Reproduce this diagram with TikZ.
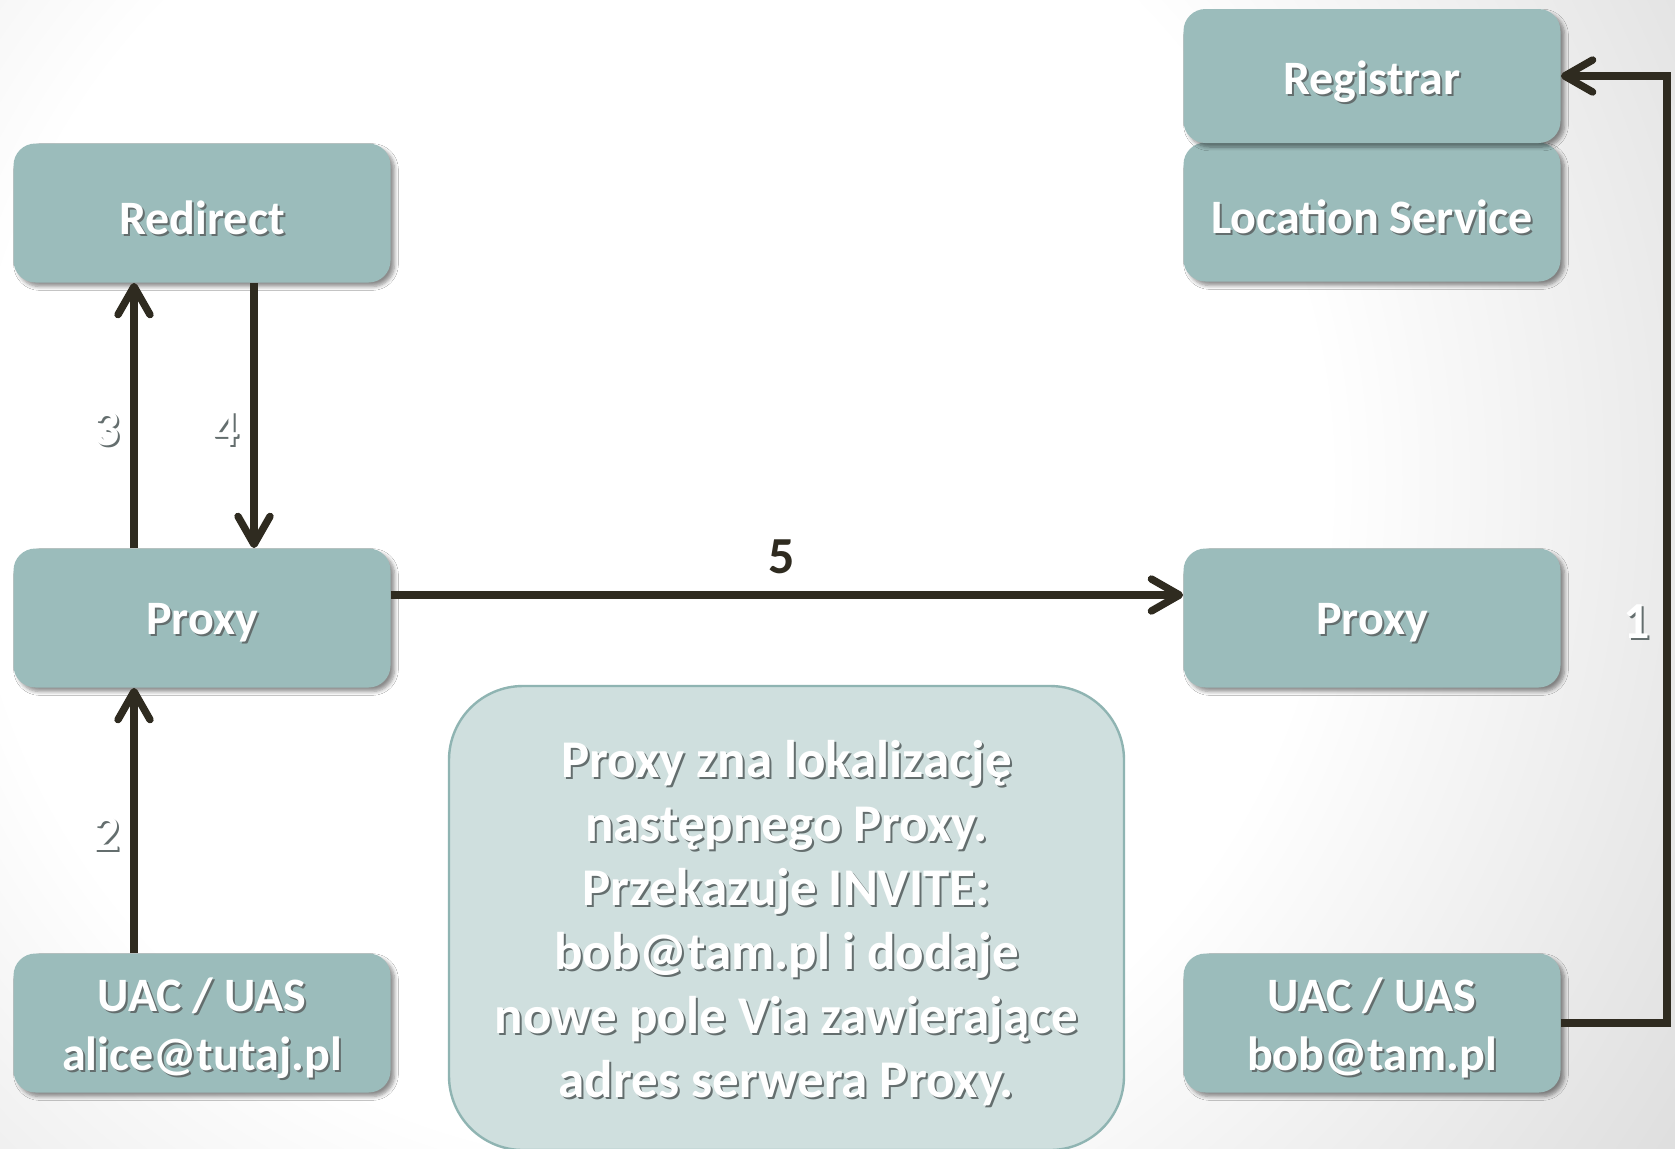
\documentclass[tikz,border=0pt]{standalone}
\usepackage{fontspec}
\setmainfont{Carlito}
\usetikzlibrary{arrows.meta,shadows,shadows.blur}

\definecolor{boxfill}{RGB}{155,188,187}
\definecolor{notefill}{RGB}{207,223,222}
\definecolor{noteedge}{RGB}{143,180,178}
\definecolor{arrowc}{RGB}{47,43,32}
\definecolor{txtshade}{RGB}{100,110,110}
\definecolor{bgright}{RGB}{218,218,218}

% slide background: white centre fading to light grey towards the edges
\pgfdeclareradialshading{slideglow}{\pgfpoint{0bp}{0bp}}{%
  color(0bp)=(white); color(13bp)=(white); color(25bp)=(bgright); color(50bp)=(bgright)}

% white lettering with a small dark offset copy behind it,
% optionally lowered without changing the line's size
\newcommand\shd[2][3pt]{\raisebox{-#1}[\height][\depth]{\rlap{\kern1pt\raisebox{-1pt}{\textcolor{txtshade}{#2}}}#2}}

\tikzset{
  stage/.style={rounded corners=11pt, fill=boxfill, text=white,
    font=\bfseries\fontsize{24}{29.5}\selectfont, align=center,
    minimum width=188.5pt, minimum height=69.5pt, inner sep=0pt,
    blur shadow={shadow xshift=2pt, shadow yshift=-2pt, shadow blur steps=6, shadow opacity=45}},
  notebox/.style={rounded corners=37pt, fill=notefill, draw=noteedge, line width=1.2pt,
    text=white, font=\bfseries\fontsize{26.5}{32}\selectfont, align=center,
    minimum width=337.5pt, minimum height=232pt, inner sep=0pt},
  flow/.style={draw=arrowc, line width=3.7pt, -{Straight Barb[length=14pt, width=16pt, round]}},
  steplabel/.style={text=white, font=\bfseries\fontsize{26}{30}\selectfont, inner sep=0pt},
}

\begin{document}
\begin{tikzpicture}[x=0.5pt, y=-0.5pt]
  % page background
  \useasboundingbox (0,0) rectangle (1675,1148);
  \begin{scope}
    \clip (0,0) rectangle (1675,1148);
    \fill[white] (0,0) rectangle (1675,1148);
    \shade[shading=slideglow] (650,480) circle (1300);
  \end{scope}

  % servers and user agents
  \node[stage] (redirect) at (202,213) {\shd{Redirect}};
  \node[stage] (location) at (1372,212) {\shd{Location Service}};
  \node[stage, minimum height=67pt] (registrar) at (1372,76) {\shd[3.5pt]{Registrar}};
  \node[stage] (proxyL) at (202,618) {\shd{Proxy}};
  \node[stage] (proxyR) at (1372,618) {\shd{Proxy}};
  \node[stage] (alice) at (202,1023) {\shd{UAC / UAS}\\\shd{alice@tutaj.pl}};
  \node[stage] (bob) at (1372,1023) {\shd{UAC / UAS}\\\shd{bob@tam.pl}};

  % explanation
  \node[notebox] (note) at (786.5,918) {\shd{Proxy zna lokalizację}\\\shd{następnego Proxy.}\\\shd{Przekazuje INVITE:}\\\shd{bob@tam.pl i dodaje}\\\shd{nowe pole Via zawierające}\\\shd{adres serwera Proxy.}};

  % message flow
  \draw[flow] (bob.east) -- ++(106,0) |- (registrar.east);
  \draw[flow] (alice.north) ++(-68,0) coordinate (a2) -- (a2 |- proxyL.south);
  \draw[flow] (proxyL.north) ++(-68,0) coordinate (a3) -- (a3 |- redirect.south);
  \draw[flow] (redirect.south) ++(52,0) coordinate (a4) -- (a4 |- proxyL.north);
  \draw[flow] (proxyL.east) ++(0,-23) coordinate (a5) -- (a5 -| proxyR.west);

  % step numbers
  \node[steplabel] (n1) at (1637,623) {\shd[0pt]{1}};
  \node[steplabel] (n2) at (107,834) {\shd[0pt]{2}};
  \node[steplabel] (n3) at (107,430) {\shd[0pt]{3}};
  \node[steplabel] (n4) at (226,430) {\shd[0pt]{4}};
  \node[steplabel, text=arrowc] (n5) at (782,557) {5};
\end{tikzpicture}
\end{document}
